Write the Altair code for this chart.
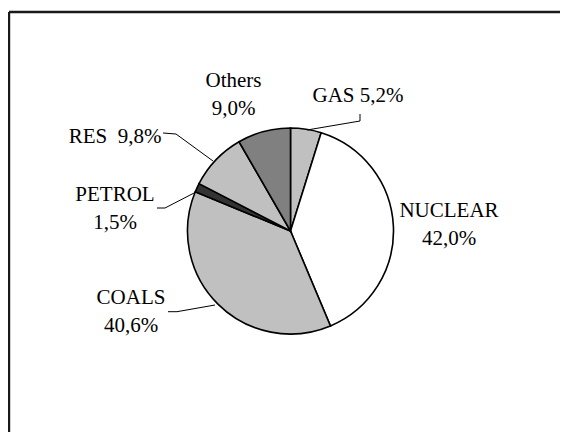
import altair as alt
import pandas as pd

# ---- data ----
categories = ["GAS", "NUCLEAR", "COALS", "PETROL", "RES", "Others"]
values = [5.2, 42.0, 40.6, 1.5, 9.8, 9.0]
fills = ["#c0c0c0", "#ffffff", "#c0c0c0", "#333333", "#c0c0c0", "#808080"]
label_texts = ["GAS 5,2%", "NUCLEAR\n42,0%", "COALS\n40,6%", "PETROL\n1,5%",
               "RES\u00a0 9,8%", "Others\n9,0%"]

# ---- layout (view pixel coordinates) ----
W, H = 552, 424
CX, CY, R = 282.5, 223, 103
label_x = [350, 441, 123, 107, 107, 225.5]
label_y = [88, 203.2, 289.5, 186.5, 129, 73.3]
leaders = {
    "GAS": [(352, 106), (352, 113), (299, 122)],
    "RES": [(155, 125), (168, 126), (205, 153)],
    "PETROL": [(149, 200), (157, 200), (188, 184)],
    "COALS": [(160, 303.7), (169, 303.7), (207, 297)],
}

pie_df = pd.DataFrame({"cat": categories, "val": values, "ord": list(range(len(categories)))})
lab_df = pd.DataFrame({"cat": categories, "text": label_texts, "x": label_x, "y": label_y})
lead_rows = []
for k, pts in leaders.items():
    for i, (px, py) in enumerate(pts):
        lead_rows.append({"id": k, "i": i, "x": px, "y": py})
lead_df = pd.DataFrame(lead_rows)
border_df = pd.DataFrame({"x": [1, 1], "x2": [W, 1], "y": [4, 4], "y2": [4, H]})

xs = alt.Scale(domain=[0, W], nice=False, zero=False)
ys = alt.Scale(domain=[H, 0], nice=False, zero=False)

pie = alt.Chart(pie_df).mark_arc(outerRadius=R, stroke="black", strokeWidth=1.6).encode(
    theta=alt.Theta("val:Q", stack=True),
    order=alt.Order("ord:Q"),
    color=alt.Color("cat:N", scale=alt.Scale(domain=categories, range=fills), legend=None),
    x=alt.value(CX),
    y=alt.value(CY),
)

labels = alt.Chart(lab_df).mark_text(
    font="Liberation Serif", fontSize=21, color="black", align="center",
    baseline="middle", lineBreak="\n", lineHeight=28,
).encode(
    x=alt.X("x:Q", scale=xs, axis=None),
    y=alt.Y("y:Q", scale=ys, axis=None),
    text="text:N",
)

lead = alt.Chart(lead_df).mark_line(color="black", strokeWidth=1).encode(
    x=alt.X("x:Q", scale=xs, axis=None),
    y=alt.Y("y:Q", scale=ys, axis=None),
    detail="id:N",
    order="i:Q",
)

border = alt.Chart(border_df).mark_rule(color="#1a1a1a", strokeWidth=2.4).encode(
    x=alt.X("x:Q", scale=xs, axis=None),
    x2="x2:Q",
    y=alt.Y("y:Q", scale=ys, axis=None),
    y2="y2:Q",
)

chart = alt.layer(border, pie, lead, labels).properties(
    width=W, height=H, padding=0, autosize=alt.AutoSizeParams(type="none"),
    background="white",
).configure_view(stroke=None)

chart.save("out.html", embed_options={"renderer": "svg", "actions": False})
